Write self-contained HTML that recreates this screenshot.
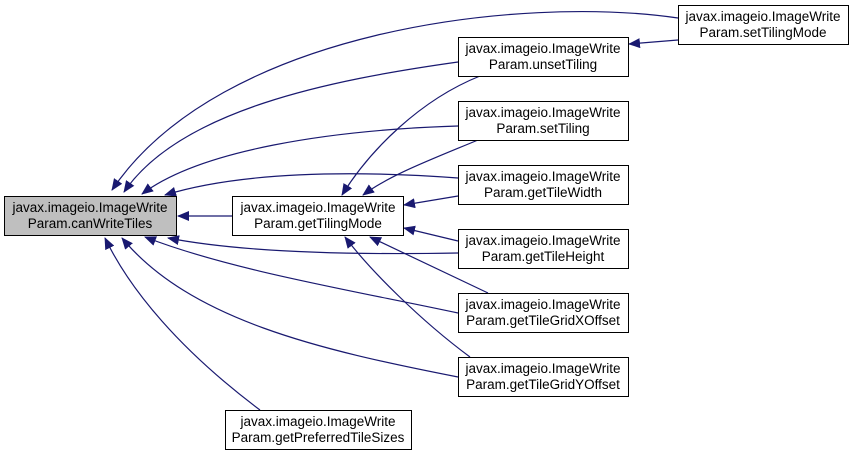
<!DOCTYPE html>
<html><head><style>
body{margin:0;background:#fff;}
svg text{font-family:"Liberation Sans",sans-serif;font-size:13.5px;fill:#000;}
</style></head><body>
<svg width="853" height="460" viewBox="0 0 853 460" xmlns="http://www.w3.org/2000/svg">
<defs><marker id="a" markerWidth="12" markerHeight="10" refX="11" refY="5" orient="auto" markerUnits="userSpaceOnUse"><path d="M0,0 L12,5 L0,10 z" fill="#191970"/></marker></defs>
<g fill="none" stroke="#191970" stroke-width="1.2" marker-end="url(#a)">
<path d="M678,18 C 520,-5 220,30 112,190"/>
<path d="M458,62 C 330,80 180,110 124,192"/>
<path d="M458,126 C 330,130 200,150 142,194"/>
<path d="M458,178 C 350,170 240,172 165,195"/>
<path d="M232,216 L178,216"/>
<path d="M458,253 C 350,255 240,252 168,238"/>
<path d="M458,313 C 350,290 230,270 145,237"/>
<path d="M458,377 C 320,350 190,320 122,238"/>
<path d="M260,410 C 180,350 130,290 105,238"/>
<path d="M480,76 C 420,100 370,150 342,195"/>
<path d="M478,140 C 430,160 390,175 363,195"/>
<path d="M458,196 L404,205"/>
<path d="M458,241 L404,228"/>
<path d="M488,293 L370,237"/>
<path d="M470,357 C 420,320 370,270 345,237"/>
<path d="M678,40 L629,44"/>
</g>
<g stroke="#000" stroke-width="1">
<rect x="4.5" y="196.5" width="172" height="39" fill="#bfbfbf"/>
<rect x="232.5" y="196.5" width="171" height="39" fill="#fff"/>
<rect x="225.5" y="410.5" width="186" height="39" fill="#fff"/>
<rect x="458.5" y="37.5" width="170" height="39" fill="#fff"/>
<rect x="458.5" y="101.5" width="170" height="39" fill="#fff"/>
<rect x="458.5" y="165.5" width="170" height="39" fill="#fff"/>
<rect x="458.5" y="229.5" width="170" height="39" fill="#fff"/>
<rect x="458.5" y="293.5" width="170" height="39" fill="#fff"/>
<rect x="458.5" y="357.5" width="170" height="39" fill="#fff"/>
<rect x="678.5" y="5.5" width="170" height="39" fill="#fff"/>
</g>
<g text-anchor="middle">
<text x="90" y="212">javax.imageio.ImageWrite</text><text x="90" y="228">Param.canWriteTiles</text>
<text x="318" y="212">javax.imageio.ImageWrite</text><text x="318" y="228">Param.getTilingMode</text>
<text x="318" y="426">javax.imageio.ImageWrite</text><text x="318" y="442">Param.getPreferredTileSizes</text>
<text x="543" y="53">javax.imageio.ImageWrite</text><text x="543" y="69">Param.unsetTiling</text>
<text x="543" y="117">javax.imageio.ImageWrite</text><text x="543" y="133">Param.setTiling</text>
<text x="543" y="181">javax.imageio.ImageWrite</text><text x="543" y="197">Param.getTileWidth</text>
<text x="543" y="245">javax.imageio.ImageWrite</text><text x="543" y="261">Param.getTileHeight</text>
<text x="543" y="309">javax.imageio.ImageWrite</text><text x="543" y="325">Param.getTileGridXOffset</text>
<text x="543" y="373">javax.imageio.ImageWrite</text><text x="543" y="389">Param.getTileGridYOffset</text>
<text x="763" y="21">javax.imageio.ImageWrite</text><text x="763" y="37">Param.setTilingMode</text>
</g>
</svg>
</body></html>
